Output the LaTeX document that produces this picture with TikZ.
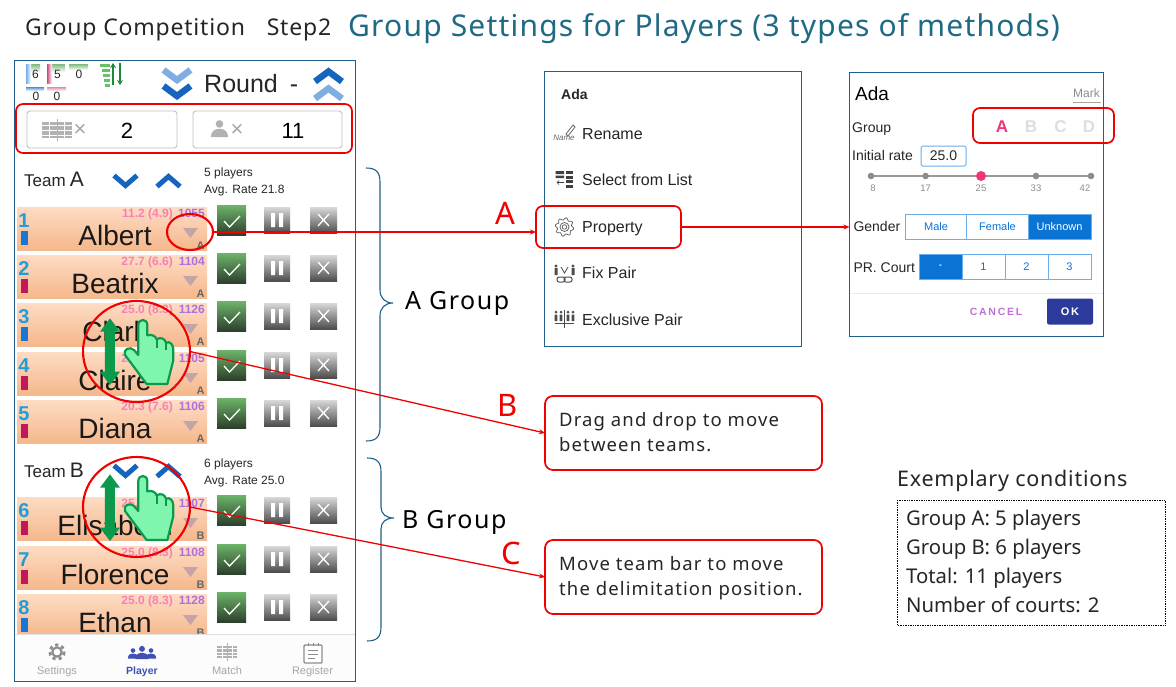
\documentclass[tikz,border=0pt]{standalone}
\usepackage{fontspec}
\setmainfont{Liberation Sans}
\newfontfamily\anno{Noto Sans}
\newfontfamily\annoT[LetterSpace=3.5]{Noto Sans}
\newfontfamily\annoB[LetterSpace=4]{Noto Sans}
\newfontfamily\annoW[LetterSpace=6]{Noto Sans}
\usetikzlibrary{shapes.geometric,arrows.meta}
\definecolor{frameblue}{HTML}{1F5F8B}
\definecolor{redline}{HTML}{F00000}
\definecolor{titleteal}{HTML}{1F6A85}
\definecolor{rowtop}{HTML}{FDDCC4}
\definecolor{rowbot}{HTML}{F5B78B}
\definecolor{numblue}{HTML}{1E9FDB}
\definecolor{barblue}{HTML}{1976D2}
\definecolor{barred}{HTML}{C2185B}
\definecolor{ratepink}{HTML}{FB7FB2}
\definecolor{idpurple}{HTML}{B06FDC}
\definecolor{chevdark}{HTML}{1565C0}
\definecolor{chevlight}{HTML}{7FAEE0}
\definecolor{btnblue}{HTML}{0A74D5}
\definecolor{btnline}{HTML}{6AAEEA}
\definecolor{handfill}{HTML}{80F5AE}
\definecolor{handline}{HTML}{0B9A4B}
\definecolor{appgreen}{HTML}{1B8A3A}
\definecolor{navblue}{HTML}{3F51B5}
\definecolor{hotpink}{HTML}{F0357A}
\definecolor{cancelpurple}{HTML}{C070D8}
\definecolor{okblue}{HTML}{2C3A9B}
\definecolor{tritone}{HTML}{C4A4A8}
\definecolor{checktop}{HTML}{6DB46A}
\definecolor{checkbot}{HTML}{2D402B}
\tikzset{
 x=1pt,y=-1pt,
 redbox/.style={draw=redline,line width=1.7pt,rounded corners=7pt,fill=none,inner sep=0pt,outer sep=0pt},
 redring/.style={draw=redline,line width=2.1pt,ellipse,fill=none,inner sep=0pt,outer sep=0pt},
 callout/.style={redbox,fill=white,rounded corners=8pt},
 redconn/.style={draw=redline,line width=1.3pt,-{Stealth[length=6pt,width=5pt]}},
 panel/.style={draw=frameblue,line width=.9pt,fill=white,outer sep=0pt},
 txt/.style={inner sep=0pt,anchor=base west,text=black!85},
 ctr/.style={inner sep=0pt,anchor=center},
 bracepath/.style={draw=frameblue,line width=1.1pt},
 countbox/.style={draw=black!25,line width=.9pt,rounded corners=3pt,fill=white},
 btn/.style={draw=btnline,line width=.9pt,fill=white},
 btnon/.style={draw=btnline,line width=.9pt,fill=btnblue},
}
\newcommand\fs[1]{\fontsize{#1}{#1}\selectfont}
% player row: top y, number, name, rate, id, bar colour, group
\newcommand\prow[7]{%
 \shade[top color=rowtop,bottom color=rowbot] (17,#1) rectangle (207,#1+43.5);
 \node[inner sep=0pt,anchor=base,text=numblue] at (24,#1+20.5) {\fs{20}\bfseries #2};
 \fill[#6] (21,#1+24) rectangle (28,#1+38);
 \node[inner sep=0pt,anchor=base east,text=ratepink] at (173,#1+10) {\fs{12}\bfseries #4};
 \node[inner sep=0pt,anchor=base east,text=idpurple] at (205,#1+10) {\fs{12}\bfseries #5};
 \node[inner sep=0pt,anchor=base,text=black!90] at (115,#1+38) {\fs{28}#3};
 \fill[tritone] (183,#1+21) -- (198,#1+21) -- (190.5,#1+31) -- cycle;
 \node[inner sep=0pt,anchor=base,text=black!60] at (200.5,#1+42) {\fs{11}\bfseries #7};
 \shade[top color=checktop,bottom color=checkbot] (217,#1-2) rectangle (246,#1+28);
 \draw[white,line width=1.3pt] (224,#1+14) -- (229.5,#1+20) -- (240,#1+9);
 \shade[top color=black!15,bottom color=black!70] (264,#1) rectangle (290,#1+26);
 \fill[white] (271,#1+6) rectangle (275,#1+20) (279,#1+6) rectangle (283,#1+20);
 \shade[top color=black!15,bottom color=black!70] (310,#1) rectangle (337,#1+26);
 \draw[white,line width=1.3pt] (318,#1+7) -- (329,#1+19) (329,#1+7) -- (318,#1+19);
}
\newcommand\chevdown[5]{\draw[#4,line width=#3,line join=miter] (#1-#5,#2-5.5) -- (#1,#2+4.5) -- (#1+#5,#2-5.5);}
\newcommand\chevup[5]{\draw[#4,line width=#3,line join=miter] (#1-#5,#2+5.5) -- (#1,#2-4.5) -- (#1+#5,#2+5.5);}
\newcommand\gearicon[4]{% x y r colour
 \draw[#4,line width=#3*0.38pt,dash pattern=on #3*0.42pt off #3*0.42pt] (#1,#2) circle[radius=#3*0.95];
 \draw[#4,line width=#3*0.28pt,fill=white] (#1,#2) circle[radius=#3*0.62];
}
\newcommand\gearline[4]{% x y r colour: outline gear
 \draw[#4,line width=.7pt] plot[domain=0:360,samples=73,variable=\a] ({#1+#3*(1+0.14*sin(8*\a))*cos(\a)},{#2+#3*(1+0.14*sin(8*\a))*sin(\a)}) -- cycle;
 \draw[#4,line width=.7pt] (#1,#2) circle[radius=#3*0.55] (#1,#2) circle[radius=#3*0.28];
}
\newcommand\personicon[4]{% x y s colour
 \fill[#4] (#1,#2-#3*0.45) circle[radius=#3*0.42];
 \fill[#4] (#1-#3*0.95,#2+#3) .. controls (#1-#3*0.9,#2+#3*0.2) and (#1-#3*0.4,#2+#3*0.1) .. (#1,#2+#3*0.1) .. controls (#1+#3*0.4,#2+#3*0.1) and (#1+#3*0.9,#2+#3*0.2) .. (#1+#3*0.95,#2+#3) -- cycle;
}
\newcommand\courticon[5]{% x0 y0 x1 y1 colour
 \fill[#5] (#1,#2) rectangle (#3,#4);
 \draw[white,line width=.6pt] (#1,#2*0.5+#4*0.5) -- (#3,#2*0.5+#4*0.5)
   (#1,#2*0.8+#4*0.2) -- (#3,#2*0.8+#4*0.2) (#1,#2*0.2+#4*0.8) -- (#3,#2*0.2+#4*0.8)
   (#1*0.75+#3*0.25,#2) -- (#1*0.75+#3*0.25,#4) (#1*0.25+#3*0.75,#2) -- (#1*0.25+#3*0.75,#4);
 \draw[#5,line width=.5pt] (#1*0.5+#3*0.5,#2-3) -- (#1*0.5+#3*0.5,#4+3);
}
\newcommand\handicon[1]{%
 \begin{scope}[shift={(10,#1)},scale=1/3]
  \fill[handline] (300,175) -- (330,215) -- (315,215) -- (315,335) -- (330,335) -- (300,375) -- (270,335) -- (285,335) -- (285,215) -- (270,215) -- cycle;
  \draw[handline,fill=handfill,line width=2.2pt,line join=round]
   (385,195) .. controls (385,175) and (412,175) .. (412,195) -- (412,226)
   .. controls (425,222) and (437,228) .. (440,238)
   .. controls (452,230) and (465,236) .. (468,248)
   .. controls (480,242) and (490,255) .. (490,268)
   -- (490,300) -- (472,372) -- (410,372) -- (345,285)
   .. controls (338,268) and (360,258) .. (372,270) -- (385,285) -- cycle;
  \draw[handline,line width=2.2pt] (440,238) -- (440,265) (468,248) -- (468,270);
 \end{scope}}
\begin{document}
\begin{tikzpicture}
\useasboundingbox (0,0) rectangle (1176,686);
\fill[white] (0,0) rectangle (1176,686);
% titles
\node[txt] (ttlA) at (25,35) {\annoT\fs{23}Group Competition\hspace{15pt} Step2};
\node[txt,text=titleteal] (ttlB) at (348,36) {\annoB\fs{30}Group Settings for Players (3 types of methods)};
% phone
\node[panel,minimum width=341pt,minimum height=621pt,inner sep=0pt,anchor=north west] (phone) at (14,60) {};
% header counters
\shade[top color=green!45!black!50!white,bottom color=white] (26,64) rectangle (40,72);
\shade[left color=barblue!60,right color=white] (26,64) rectangle (31,83);
\shade[top color=green!45!black!50!white,bottom color=white] (47,64) rectangle (65,72);
\shade[left color=barred!80,right color=white] (47,64) rectangle (52,83);
\shade[top color=green!45!black!50!white,bottom color=white] (69,64) rectangle (88,70);
\node[ctr,text=black!85] (c6) at (35.5,74) {\fs{12}6};
\node[ctr,text=black!85] (c5) at (57.5,74) {\fs{12}5};
\node[ctr,text=black!85] (c0) at (79,74) {\fs{12}0};
\shade[top color=barblue!80,bottom color=white] (26,87) rectangle (44,91);
\shade[top color=barred!50,bottom color=white] (47,87) rectangle (66,91);
\node[ctr,text=black!85] (d0) at (36,96) {\fs{12}0};
\node[ctr,text=black!85] (d1) at (57,96) {\fs{12}0};
% sort icon
\foreach \yy/\xx in {64/100,69/102,74/103,79/104,84/105} {\fill[green!60!black!60] (\xx,\yy) rectangle (110,\yy+2.5);}
\draw[appgreen,line width=2.6pt,-{Stealth[length=5pt,width=6pt]}] (113,85) -- (113,63);
\draw[appgreen,line width=2.6pt,-{Stealth[length=5pt,width=6pt]}] (120,63) -- (120,85);
% round
\chevdown{177}{75.5}{6.5pt}{chevlight}{13.5}
\chevdown{177}{91.5}{6.5pt}{chevdark}{13.5}
\node[txt] (round) at (204,92.5) {\fs{25}Round\hspace{12pt}-};
\chevup{328.5}{76}{6.5pt}{chevdark}{13.5}
\chevup{328.5}{93}{6.5pt}{chevlight}{13.5}
% counts
\draw[countbox] (27,111) rectangle (177,148);
\draw[countbox] (193,111) rectangle (342,148);
\courticon{42}{122}{72}{138}{black!30}
\node[ctr,text=black!35] (xa) at (80,130) {\fs{22}×};
\node[ctr,text=black] (ncourt) at (127,131) {\fs{22}2};
\personicon{219.5}{128}{9}{black!30}
\node[ctr,text=black!35] (xb) at (237,130) {\fs{22}×};
\node[ctr,text=black] (nplay) at (293,131) {\fs{22}11};
\node[redbox,minimum width=336pt,minimum height=49pt,anchor=north west] (countsbox) at (16,104) {};
% team A
\node[txt] (teamA) at (24,186.7) {\fs{17}Team\hspace{4pt}\fs{21}A};
\chevdown{125.5}{181}{5pt}{chevdark}{11.5}
\chevup{168.5}{181}{5pt}{chevdark}{11.5}
\node[txt] (infoA1) at (204,176.7) {\fs{12}5 players};
\node[txt] (infoA2) at (204,193.3) {\fs{12}Avg. Rate 21.8};
% rows
\prow{207}{1}{Albert}{11.2 (4.9)}{1055}{barblue}{A}
\prow{255}{2}{Beatrix}{27.7 (6.6)}{1104}{barred}{A}
\prow{303}{3}{Clark}{25.0 (8.3)}{1126}{barblue}{A}
\prow{352}{4}{Claire}{25.0 (8.3)}{1105}{barred}{A}
\prow{400}{5}{Diana}{20.3 (7.6)}{1106}{barred}{A}
% team B
\node[txt] (teamB) at (24,477.3) {\fs{17}Team\hspace{4pt}\fs{21}B};
\chevdown{125.5}{471}{5pt}{chevdark}{11.5}
\chevup{168.5}{471}{5pt}{chevdark}{11.5}
\node[txt] (infoB1) at (204,467.3) {\fs{12}6 players};
\node[txt] (infoB2) at (204,484) {\fs{12}Avg. Rate 25.0};
\prow{497}{6}{Elisabeth}{25.0 (8.3)}{1107}{barred}{B}
\prow{546}{7}{Florence}{25.0 (8.3)}{1108}{barred}{B}
\prow{594}{8}{Ethan}{25.0 (8.3)}{1128}{barblue}{B}
% nav bar
\fill[black!1] (14.5,634) rectangle (354.5,680.5);
\draw[black!12,line width=.8pt] (14.5,634) -- (354.5,634);
\draw[frameblue,line width=.9pt] (14,60) rectangle (355,681);
\gearicon{57}{652}{7.5}{black!45}
\node[inner sep=0pt,anchor=base,text=black!35] (navS) at (57,674) {\fs{11}Settings};
\personicon{142}{652}{7}{navblue}
\personicon{133}{653}{5.5}{navblue}
\personicon{151}{653}{5.5}{navblue}
\node[inner sep=0pt,anchor=base,text=navblue] (navP) at (142,674) {\fs{10.5}\bfseries Player};
\courticon{217}{646}{237}{658}{black!30}
\node[inner sep=0pt,anchor=base,text=black!35] (navM) at (227,674) {\fs{11}Match};
\draw[black!45,line width=1.4pt,rounded corners=1pt,fill=white] (304,645) rectangle (322,663);
\draw[black!45,line width=1pt] (308,650) -- (318,650) (308,654) -- (318,654) (308,658) -- (315,658) (308,642.5) -- (308,646) (313,642.5) -- (313,646) (318,642.5) -- (318,646);
\node[inner sep=0pt,anchor=base,text=black!35] (navR) at (312.5,674) {\fs{11}Register};
% braces
\draw[bracepath] (366,168) .. controls (376,168) and (380,172) .. (380,182) -- (380,290) .. controls (380,298) and (385,303) .. (393,303) .. controls (385,303) and (380,308) .. (380,316) -- (380,427) .. controls (380,437) and (376,441) .. (366,441);
\draw[bracepath] (367,458) .. controls (377,458) and (381,462) .. (381,472) -- (381,507) .. controls (381,514) and (386,518) .. (394,518) .. controls (386,518) and (381,522) .. (381,529) -- (381,627) .. controls (381,637) and (377,641) .. (367,641);
\node[txt,text=black] (grpA) at (405,309) {\annoW\fs{25}A Group};
\node[txt,text=black] (grpB) at (402,528) {\annoW\fs{25}B Group};
% menu panel
\node[panel,minimum width=257pt,minimum height=275pt,inner sep=0pt,anchor=north west] (menu) at (544.5,71.5) {};
\node[txt] (mAda) at (561,99.5) {\fs{14}\bfseries Ada};
\node[txt] (mRen) at (582,139.5) {\fs{16}Rename};
\node[txt] (mSel) at (582,185.5) {\fs{16}Select from List};
\node[txt] (mPro) at (582,232) {\fs{16}Property};
\node[txt] (mFix) at (582,278) {\fs{16}Fix Pair};
\node[txt] (mExc) at (582,325) {\fs{16}Exclusive Pair};
% menu icons
\node[ctr,text=black!60] (nameic) at (564,138) {\fs{8}\itshape Name};
\draw[black!60,line width=.8pt] (566,134) -- (573,125) -- (575,127) -- (568,136) -- cycle;
\foreach \yy in {171,175.5,180,184.5} {\fill[black!75] (566,\yy) rectangle (573,\yy+3);}
\fill[black!75] (555.5,171) rectangle (564,174) (555.5,175.5) rectangle (564,178);
\draw[black!75,line width=.7pt] (564,182.5) -- (557,182.5) (559,180.5) -- (557,182.5) -- (559,184.5);
\gearline{564.5}{227}{8.2}{black!65}
\foreach \xx in {556,573} {\fill[black!70] (\xx,266) circle[radius=1.6] (\xx-1.5,268) rectangle (\xx+1.5,275);}
\draw[black!70,line width=.8pt] (561,267) -- (564.5,273) -- (568,267);
\draw[black!70,line width=1pt,rounded corners=2pt] (557,277) rectangle (565,282) (564,277) rectangle (572,282);
\foreach \xx in {556,561,568,573} {\fill[black!70] (\xx,312) circle[radius=1.5] (\xx-1.3,314.5) rectangle (\xx+1.3,321);}
\draw[black!70,line width=.8pt] (564.5,310) -- (564.5,328) (555,323) -- (574,323);
% property highlight
\node[redbox,minimum width=145pt,minimum height=42pt,anchor=north west] (propbox) at (536,206) {};
% props panel
\node[panel,minimum width=254pt,minimum height=264pt,inner sep=0pt,anchor=north west] (props) at (849.5,72) {};
\node[txt,text=black] (pAda) at (855,100) {\fs{19}Ada};
\node[txt,text=black!45] (pMark) at (1073,97.3) {\fs{12}Mark};
\draw[black!35,line width=.7pt] (1073,102.5) -- (1101,102.5);
\node[txt] (pGroup) at (852,132.7) {\fs{14}Group};
\node[ctr,text=black!13] (gB) at (1031,127) {\fs{17}\bfseries B};
\node[ctr,text=black!13] (gC) at (1060.5,127) {\fs{17}\bfseries C};
\node[ctr,text=black!13] (gD) at (1089,127) {\fs{17}\bfseries D};
\node[ctr,text=hotpink] (gA) at (1002,127) {\fs{17}\bfseries A};
\node[txt] (pRate) at (852,160.7) {\fs{14}Initial rate};
\node[draw=btnline,line width=1pt,rounded corners=1.5pt,minimum width=45pt,minimum height=20pt,inner sep=0pt,outer sep=0pt,text=black!85] (rateb) at (943.5,156) {\fs{14}25.0};
\draw[black!40,line width=1.2pt] (871,176) -- (1091,176);
\foreach \xx in {871,925.6,1036,1091} {\fill[black!45] (\xx,176) circle[radius=3.3];}
\fill[hotpink] (981,176) circle[radius=5];
\node[ctr,text=black!45] (s1) at (873,188) {\fs{9.5}8};
\node[ctr,text=black!45] (s2) at (925.6,188) {\fs{9.5}17};
\node[ctr,text=black!45] (s3) at (981,188) {\fs{9.5}25};
\node[ctr,text=black!45] (s4) at (1036,188) {\fs{9.5}33};
\node[ctr,text=black!45] (s5) at (1085,188) {\fs{9.5}42};
\node[txt] (pGen) at (853.3,231.7) {\fs{14}Gender};
\draw[btn] (905,214) rectangle (966.5,239);
\draw[btn] (966.5,214) rectangle (1028,239);
\draw[btnon] (1028,214) rectangle (1091,239);
\node[ctr,text=btnblue] (bM) at (936,226.5) {\fs{11}Male};
\node[ctr,text=btnblue] (bF) at (997.5,226.5) {\fs{11}Female};
\node[ctr,text=white] (bU) at (1059.5,226.5) {\fs{11}Unknown};
\node[txt] (pPR) at (853.3,272.3) {\fs{14}PR. Court};
\draw[btnon] (919,254) rectangle (962,279);
\draw[btn] (962,254) rectangle (1005,279);
\draw[btn] (1005,254) rectangle (1048,279);
\draw[btn] (1048,254) rectangle (1091,279);
\node[ctr,text=white] (b0) at (940.5,266.5) {\fs{11}-};
\node[ctr,text=btnblue] (b1) at (983.5,266.5) {\fs{11}1};
\node[ctr,text=btnblue] (b2) at (1026.5,266.5) {\fs{11}2};
\node[ctr,text=btnblue] (b3) at (1069.5,266.5) {\fs{11}3};
\draw[black!8,line width=.8pt] (850,293) -- (1103,293);
\node[ctr,text=cancelpurple] (bC) at (996,312) {\fs{10.5}\bfseries C\,A\,N\,C\,E\,L};
\node[fill=okblue,rounded corners=2pt,minimum width=46pt,minimum height=26pt,inner sep=0pt,text=white] (bOK) at (1070,311.5) {\fs{11}\bfseries O\,K};
\node[redbox,minimum width=141pt,minimum height=35pt,anchor=north west] (groupbox) at (973,108) {};
% rings & hands
\node[redring,minimum width=46pt,minimum height=36pt] (ringAlbert) at (190,232) {};
\handicon{260}
\node[redring,minimum width=107pt,minimum height=101pt] (ringC) at (136.5,351.5) {};
\handicon{416}
\node[redring,minimum width=107pt,minimum height=100pt] (ringD) at (136.5,507) {};
% callouts
\node[callout,minimum width=277pt,minimum height=74pt,anchor=north west] (boxDrag) at (545,396) {};
\node[txt] (dragT1) at (559,426.5) {\annoW\fs{18.5}Drag and drop to move};
\node[txt] (dragT2) at (559,451.5) {\annoW\fs{18.5}between teams.};
\node[callout,minimum width=277pt,minimum height=74pt,anchor=north west] (boxMove) at (545,540) {};
\node[txt] (moveT1) at (559,570.5) {\annoW\fs{18.5}Move team bar to move};
\node[txt] (moveT2) at (559,595.5) {\annoW\fs{18.5}the delimitation position.};
% connectors
\draw[redconn] (ringAlbert.east) -- (propbox.west |- ringAlbert.east);
\draw[redconn] (propbox.east) -- (props.west |- propbox.east);
\draw[redconn] (ringC.east) -- (boxDrag.west);
\draw[redconn] (ringD.east) -- (boxMove.west);
% letters
\node[ctr,text=redline] (lA) at (505,213) {\anno\fs{31}A};
\node[ctr,text=redline] (lB) at (508,405) {\anno\fs{31}B};
\node[ctr,text=redline] (lC) at (511,553) {\anno\fs{31}C};
% conditions
\node[txt,text=black!85] (exT) at (897,486) {\annoT\fs{21.5}Exemplary conditions};
\draw[black,line width=.7pt,densely dotted] (897,500) rectangle (1165,625);
\node[txt,text=black!85] (ex1) at (906,525.5) {\anno\fs{20.3}Group A: 5 players};
\node[txt,text=black!85] (ex2) at (906,554.5) {\anno\fs{20.3}Group B: 6 players};
\node[txt,text=black!85] (ex3) at (906,583.5) {\anno\fs{20.3}Total: 11 players};
\node[txt,text=black!85] (ex4) at (906,612.5) {\anno\fs{20.3}Number of courts: 2};
\end{tikzpicture}
\end{document}
